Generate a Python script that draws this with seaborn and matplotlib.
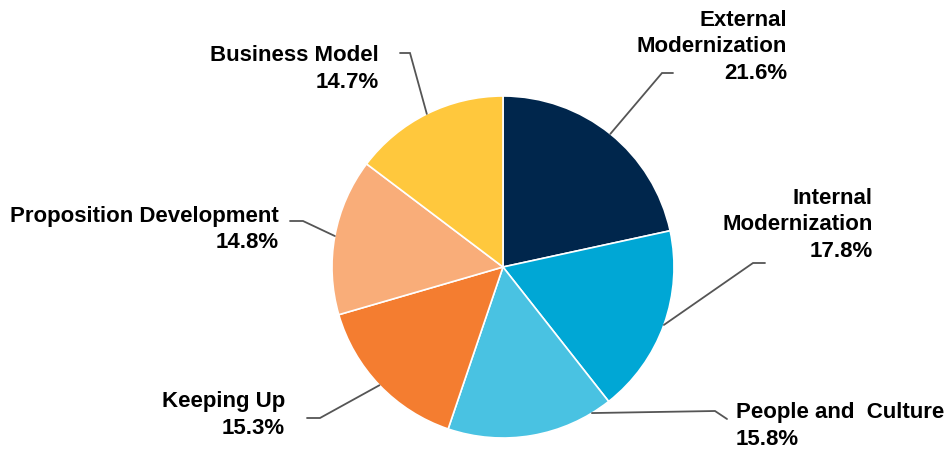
import numpy as np
import matplotlib
matplotlib.use("Agg")
import matplotlib.pyplot as plt
import seaborn as sns

categories = ["External\nModernization", "Internal\nModernization", "People and  Culture",
              "Keeping Up", "Proposition Development", "Business Model"]
values = [21.6, 17.8, 15.8, 15.3, 14.8, 14.7]
colors = ["#00264C", "#00A7D5", "#49C2E2", "#F47D30", "#F9AD79", "#FFC83D"]

sns.set_theme(style="white")
plt.rcParams['font.family'] = ['Liberation Sans', 'DejaVu Sans']

W, H, DPI = 945, 452, 100
fig = plt.figure(figsize=(W / DPI, H / DPI), dpi=DPI)
ax = fig.add_axes([0, 0, 1, 1])

cx, cy, R = 503, 268, 171  # pixel layout of pie


def px(x, y):
    return ((x - cx) / R, (cy - y) / R)


wedges, _ = ax.pie(values, colors=colors, startangle=90, counterclock=False,
                   radius=1.0, center=(0, 0),
                   wedgeprops=dict(edgecolor='white', linewidth=1.2))

# leader layout: (fraction within wedge for attach point, elbow px, end px, text px (block centre), ha)
layout = [
    (0.5, (662, 74), (673, 74), (787, 47), 'right'),
    (0.5, (753, 264), (765, 264), (873, 225), 'right'),
    (0.12, (715, 412), (727, 420), (736, 426), 'left'),
    (0.5, (320, 419), (307, 419), (285, 415), 'right'),
    (0.5, (303, 222), (290, 222), (279, 229.5), 'right'),
    (0.5, (410, 54), (400, 54), (379, 69), 'right'),
]

total = sum(values)
start = 90.0
for val, cat, (frac, elbow, end, tpos, ha) in zip(values, categories, layout):
    span = 360.0 * val / total
    ang = np.deg2rad(start - span * frac)
    start -= span
    p0 = (np.cos(ang), np.sin(ang))
    p1 = px(*elbow)
    p2 = px(*end)
    ax.plot([p0[0], p1[0], p2[0]], [p0[1], p1[1], p2[1]], color='#555555', lw=1.3,
            solid_joinstyle='miter')
    label = f"{cat}\n{val:.1f}%"
    tx, ty = px(*tpos)
    ax.text(tx, ty, label, ha=ha, va='center', multialignment=ha,
            fontsize=16, fontweight='bold', color='black', linespacing=1.32)

ax.set_xlim(-cx / R, (W - cx) / R)
ax.set_ylim(-(H - cy) / R, cy / R)
ax.set_aspect('auto')
ax.axis('off')

fig.savefig("out.png", dpi=DPI)
